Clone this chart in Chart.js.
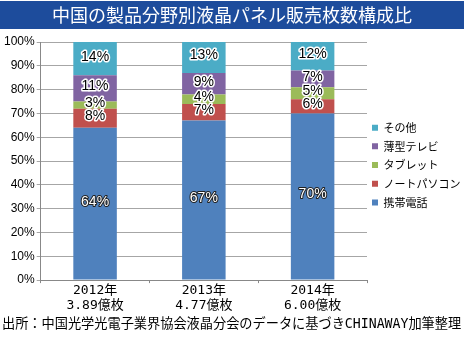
<!DOCTYPE html>
<html>
<head>
<meta charset="utf-8">
<script src="https://cdn.jsdelivr.net/npm/chart.js@4"></script>
<style>
  html, body { margin: 0; padding: 0; background: #fff; }
  #wrap { width: 465px; height: 338px; position: relative; }
</style>
</head>
<body>
<div id="wrap"><canvas id="chart"></canvas></div>
<script>
// データ
const anos = [['2012年', '3.89億枚'], ['2013年', '4.77億枚'], ['2014年', '6.00億枚']];
const keitai = [64, 67, 70];
const note = [8, 7, 6];
const tablet = [3, 4, 5];
const tv = [11, 9, 7];
const sonota = [14, 13, 12];
const yTicks = [0, 10, 20, 30, 40, 50, 60, 70, 80, 90, 100];

const titulo = '中国の製品分野別液晶パネル販売枚数構成比';
const fuente = '出所：中国光学光電子業界協会液晶分会のデータに基づきCHINAWAY加筆整理';

const fJP = '"Noto Sans CJK JP", sans-serif';
const fMono = '"DejaVu Sans Mono", "Noto Sans CJK JP", monospace';

// タイトル帯と出所
const marco = {
    id: 'marco',
    beforeDraw(chart) {
        const c = chart.ctx;
        c.save();
        c.fillStyle = '#1d4c9c';
        c.fillRect(0, 1, 464, 28);
        c.fillStyle = '#fff';
        c.font = '18px ' + fJP;
        c.textAlign = 'center';
        c.textBaseline = 'middle';
        c.fillText(titulo, 232, 15);
        c.fillStyle = '#000';
        c.font = '13.2px ' + fMono;
        c.textAlign = 'left';
        c.fillText(fuente, 2, 325);
        c.restore();
    }
};

// 凡例をプロットの右端に寄せる
const ajusteLeyenda = {
    id: 'ajusteLeyenda',
    afterLayout(chart) {
        const lg = chart.legend;
        const pad = lg.options.labels.padding;
        const w = lg.width;
        lg.left = chart.chartArea.right + 5 - pad;
        lg.right = lg.left + w;
        lg.top = chart.chartArea.top + 8;
        lg.bottom = chart.chartArea.bottom;
    }
};

// 棒の中の%ラベル
const etiquetas = {
    id: 'etiquetas',
    afterDatasetsDraw(chart) {
        const c = chart.ctx;
        c.save();
        c.font = '14px "Liberation Sans Narrow", "Liberation Sans", sans-serif';
        c.textAlign = 'center';
        c.textBaseline = 'middle';
        c.lineJoin = 'round';
        chart.data.datasets.forEach((ds, i) => {
            const meta = chart.getDatasetMeta(i);
            meta.data.forEach((bar, j) => {
                const y = (bar.y + bar.base) / 2 - 2;
                const txt = ds.data[j] + '%';
                if (i === 0) {
                    c.strokeStyle = '#222';
                    c.lineWidth = 2;
                    c.strokeText(txt, bar.x, y);
                    c.fillStyle = '#fff';
                } else {
                    c.strokeStyle = '#fff';
                    c.lineWidth = 3;
                    c.strokeText(txt, bar.x, y);
                    c.fillStyle = '#000';
                }
                c.fillText(txt, bar.x, y);
            });
        });
        c.restore();
    }
};

const serie = (label, data, color) => ({
    label: label,
    data: data,
    backgroundColor: color,
    borderWidth: 0,
    barPercentage: 0.4,
    categoryPercentage: 1
});

new Chart(document.getElementById('chart'), {
    type: 'bar',
    data: {
        labels: anos,
        datasets: [
            serie('携帯電話', keitai, '#4f81bd'),
            serie('ノートパソコン', note, '#c0504d'),
            serie('タブレット', tablet, '#9bbb59'),
            serie('薄型テレビ', tv, '#8064a2'),
            serie('その他', sonota, '#4bacc6')
        ]
    },
    options: {
        responsive: true,
        maintainAspectRatio: false,
        animation: false,
        layout: { padding: { top: 42, left: 2, right: 0, bottom: 25 } },
        scales: {
            x: {
                stacked: true,
                grid: { drawOnChartArea: false, drawTicks: true, tickLength: 3, color: '#888' },
                border: { color: '#888' },
                ticks: {
                    color: '#000',
                    padding: 0,
                    maxRotation: 0,
                    font: { family: fMono, size: 13, lineHeight: 1.15 }
                }
            },
            y: {
                stacked: true,
                min: 0,
                max: 100,
                afterBuildTicks(scale) {
                    scale.ticks = yTicks.map(v => ({ value: v }));
                },
                grid: { color: '#a6a6a6', tickLength: 4 },
                border: { color: '#888' },
                ticks: {
                    color: '#000',
                    padding: 2,
                    font: { family: '"Liberation Sans", Arial, sans-serif', size: 12 },
                    callback: v => v + '%'
                }
            }
        },
        plugins: {
            legend: {
                position: 'right',
                reverse: true,
                maxWidth: 98,
                labels: {
                    boxWidth: 6,
                    boxHeight: 6,
                    padding: 7.7,
                    color: '#000',
                    font: { family: fJP, size: 11 }
                }
            },
            title: { display: false },
            tooltip: { enabled: false }
        }
    },
    plugins: [marco, ajusteLeyenda, etiquetas]
});
</script>
</body>
</html>
